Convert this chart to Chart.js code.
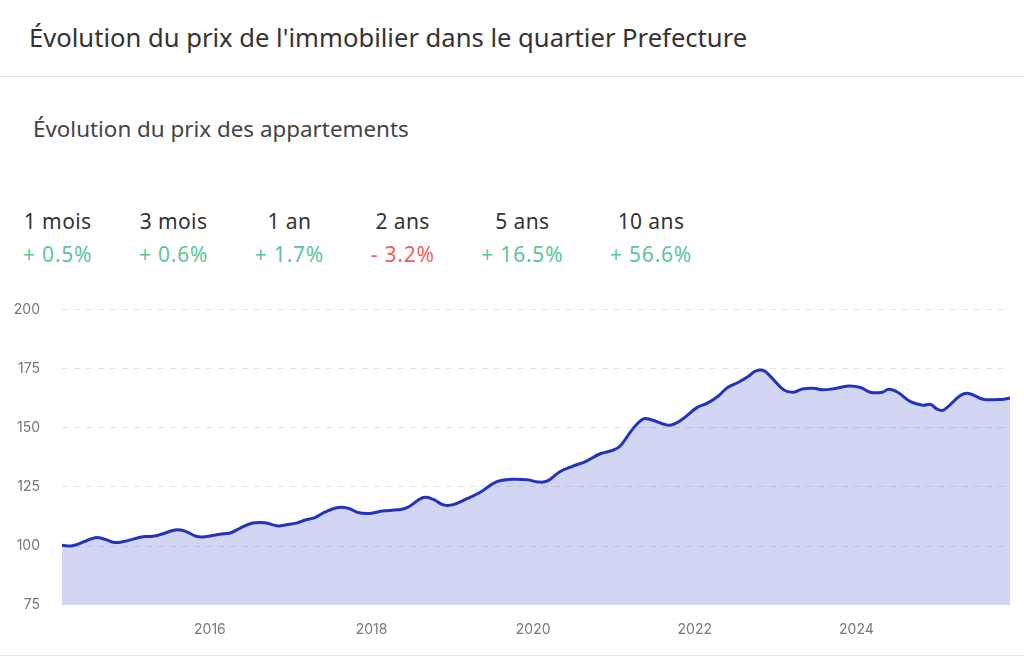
<!DOCTYPE html>
<html lang="fr">
<head>
<meta charset="utf-8">
<title>Évolution du prix de l'immobilier</title>
<script src="https://cdn.jsdelivr.net/npm/chart.js@4.4.1/dist/chart.umd.min.js"></script>
<style>
  html, body { margin: 0; padding: 0; background: #fff; }
  body { width: 1024px; height: 658px; position: relative; overflow: hidden; font-family: "Noto Sans", Roboto, sans-serif; color: #333; }
  .title { position: absolute; left: 29px; top: 20px; font-size: 25.6px; font-weight: 400; color: #333; margin: 0; line-height: 36px; }
  .divider { position: absolute; left: 0; right: 0; top: 76px; border-top: 1px solid #e2e2e2; }
  .subtitle { position: absolute; left: 33px; top: 114px; font-size: 22.4px; font-weight: 400; color: #444; margin: 0; line-height: 30px; }
  .stats { position: absolute; left: 23px; top: 207px; display: flex; gap: 46.5px; }
  .stat { text-align: center; font-size: 21px; letter-spacing: 0.4px; line-height: 28px; }
  .stat .lbl { color: #333; }
  .stat .val { margin-top: 5px; letter-spacing: 0.8px; }
  .up { color: #5cc695; }
  .down { color: #ec6259; }
  .wrap { position: absolute; left: 0; top: 279px; width: 1024px; height: 367px; }
  .bottom { position: absolute; left: 0; right: 0; top: 655px; border-top: 1px solid #e8e8e8; }
</style>
</head>
<body>
<h1 class="title">Évolution du prix de l'immobilier dans le quartier Prefecture</h1>
<div class="divider"></div>
<h2 class="subtitle">Évolution du prix des appartements</h2>
<div class="stats" id="stats"></div>
<div class="wrap"><canvas id="chart"></canvas></div>
<div class="bottom"></div>
<script>
// STATS
const periods = ['1 mois', '3 mois', '1 an', '2 ans', '5 ans', '10 ans']
const changes = [0.5, 0.6, 1.7, -3.2, 16.5, 56.6]

// SERIES (decimal years, index base 100)
const dates = [
  2014.17, 2014.30, 2014.58, 2014.70, 2014.82, 2014.92, 2015.17, 2015.29, 2015.42, 2015.57,
  2015.69, 2015.84, 2015.96, 2016.12, 2016.25, 2016.37, 2016.53, 2016.68, 2016.84, 2016.95,
  2017.08, 2017.18, 2017.30, 2017.42, 2017.57, 2017.71, 2017.83, 2017.98, 2018.13, 2018.33,
  2018.44, 2018.64, 2018.76, 2018.89, 2019.01, 2019.18, 2019.34, 2019.55, 2019.74, 2019.93,
  2020.06, 2020.17, 2020.33, 2020.48, 2020.64, 2020.83, 2020.99, 2021.08, 2021.23, 2021.36,
  2021.45, 2021.66, 2021.76, 2021.85, 2022.03, 2022.15, 2022.28, 2022.41, 2022.54, 2022.66,
  2022.75, 2022.85, 2022.93, 2023.10, 2023.22, 2023.33, 2023.47, 2023.58, 2023.72, 2023.90,
  2024.05, 2024.17, 2024.32, 2024.40, 2024.51, 2024.67, 2024.82, 2024.92, 2025.00, 2025.08,
  2025.29, 2025.39, 2025.57, 2025.75, 2025.82, 2025.90
]
const prices = [
  100.3, 100.1, 103.5, 102.9, 101.5, 101.8, 103.9, 104.1, 105.2, 106.8,
  106.3, 104.0, 104.0, 105.0, 105.5, 107.5, 109.7, 109.8, 108.5, 109.0,
  109.8, 111.0, 112.0, 114.3, 116.2, 116.0, 114.2, 113.8, 114.8, 115.3,
  116.2, 120.5, 119.8, 117.4, 117.5, 120.0, 122.6, 127.2, 128.2, 128.0,
  127.1, 127.4, 131.4, 133.6, 135.6, 139.0, 140.5, 142.4, 149.4, 153.7,
  153.5, 151.1, 151.8, 153.7, 158.6, 160.3, 163.1, 167.1, 169.2, 171.6,
  173.9, 174.2, 171.9, 166.0, 165.0, 166.4, 166.7, 166.0, 166.5, 167.6,
  167.0, 165.0, 165.0, 166.3, 165.0, 161.0, 159.5, 159.8, 157.8, 157.5,
  163.7, 164.5, 162.0, 161.9, 162.0, 162.6
]

// TICKS
const yearTicks = [2016, 2018, 2020, 2022, 2024]
const priceTicks = [75, 100, 125, 150, 175, 200]

const statsEl = document.getElementById('stats')
periods.forEach((p, i) => {
    const v = changes[i]
    const item = document.createElement('div')
    item.className = 'stat'
    item.innerHTML = '<div class="lbl">' + p + '</div>' +
        '<div class="val ' + (v < 0 ? 'down' : 'up') + '">' + (v < 0 ? '- ' : '+ ') + Math.abs(v).toFixed(1) + '%</div>'
    statsEl.appendChild(item)
})

// CHART
const ctx = document.getElementById('chart').getContext('2d')
const chart = new Chart(ctx, {
    type: 'line',
    data: {
        datasets: [{
            data: dates.map((d, i) => ({ x: d, y: prices[i] })),
            borderColor: '#2234bf',
            backgroundColor: 'rgba(34, 52, 191, 0.2)',
            borderWidth: 3,
            fill: 'start',
            tension: 0.4,
            pointRadius: 0
        }]
    },
    options: {
        responsive: true,
        maintainAspectRatio: false,
        animation: false,
        layout: { padding: { top: 0, right: 14, bottom: 0, left: 0 } },
        plugins: { legend: { display: false }, tooltip: { enabled: false } },
        scales: {
            x: {
                type: 'linear',
                min: dates[0],
                max: dates[dates.length - 1],
                afterBuildTicks: (s) => { s.ticks = yearTicks.map(v => ({ value: v })) },
                grid: { display: false },
                border: { display: false },
                ticks: { color: '#777', font: { family: 'Inter', size: 14 }, padding: 8, maxRotation: 0, callback: (v) => String(v) }
            },
            y: {
                min: 75,
                max: 200,
                afterBuildTicks: (s) => { s.ticks = priceTicks.map(v => ({ value: v })) },
                afterFit: (s) => { s.width = 62 },
                grid: {
                    color: (c) => c.tick && c.tick.value === priceTicks[0] ? 'rgba(0,0,0,0)' : '#e3e3e3',
                    drawTicks: false
                },
                border: { display: false, dash: [6, 6] },
                ticks: { color: '#777', font: { family: 'Inter', size: 14 }, padding: 22 }
            }
        }
    }
})
</script>
</body>
</html>
